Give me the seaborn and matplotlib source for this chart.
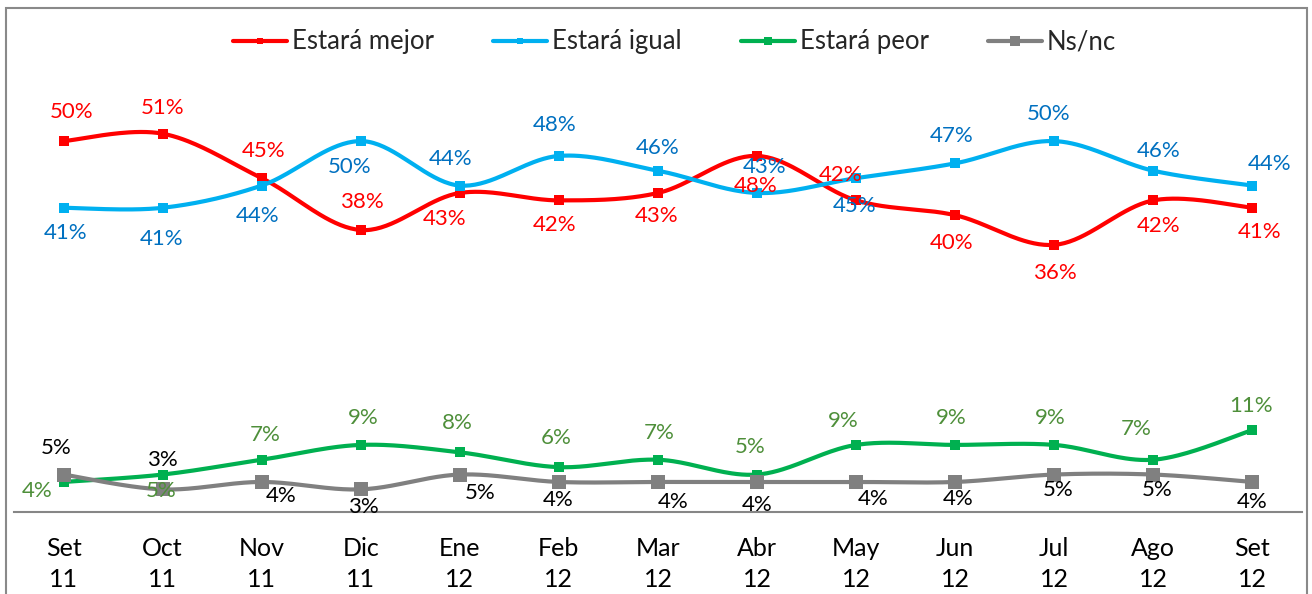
import numpy as np
import pandas as pd
import matplotlib
matplotlib.use("Agg")
import matplotlib.pyplot as plt
import seaborn as sns
from matplotlib.lines import Line2D
from matplotlib.patches import Rectangle

# ---- data ----
months = ["Set", "Oct", "Nov", "Dic", "Ene", "Feb", "Mar", "Abr", "May", "Jun", "Jul", "Ago", "Set"]
years = ["11", "11", "11", "11", "12", "12", "12", "12", "12", "12", "12", "12", "12"]
series_names = ["Estará mejor", "Estará igual", "Estará peor", "Ns/nc"]
mejor = [50, 51, 45, 38, 43, 42, 43, 48, 42, 40, 36, 42, 41]
igual = [41, 41, 44, 50, 44, 48, 46, 43, 45, 47, 50, 46, 44]
peor = [4, 5, 7, 9, 8, 6, 7, 5, 9, 9, 9, 7, 11]
nsnc = [5, 3, 4, 3, 5, 4, 4, 4, 4, 4, 5, 5, 4]

# ---- label placement (pixel offsets: right, down) ----
off_mejor = [(8, -29), (0, -26), (2, -27), (1, -28), (-15, 26), (-4, 25), (-1, 23),
             (-1, 30), (-16, -25), (-4, 28), (1, 28), (5, 26), (7, 24)]
off_igual = [(2, 25), (-1, 31), (-4, 30), (-11, 26), (-9, -27), (-4, -31), (0, -23),
             (8, -26), (-2, 28), (-4, -27), (-6, -27), (5, -20), (17, -22)]
off_peor = [(-26, 9), (-1, 16), (3, -25), (2, -27), (-3, -29), (-3, -29), (1, -27),
            (-7, -28), (-13, -24), (-4, -27), (-4, -27), (-17, -31), (-1, -24)]
off_nsnc = [(-7, -27), (0, -29), (19, 14), (3, 18), (20, 18), (-1, 18), (15, 20),
            (0, 23), (17, 17), (3, 17), (4, 15), (4, 15), (0, 20)]

# ---- styling ----
line_colors = ["#FF0000", "#00B0F0", "#00B050", "#808080"]
label_colors = ["#FF0000", "#0070C0", "#4E8F3A", "#000000"]
marker_sizes = [42, 42, 62, 100]          # scatter sizes (pt^2)
legend_marker_sizes = [4.5, 4.0, 5.5, 7.5]


def smooth_curve(xs, ys, n=40):
    """Cubic Bezier smoothing through every point (Catmull-Rom style)."""
    pts = np.column_stack([xs, ys]).astype(float)
    P = np.vstack([pts[0], pts, pts[-1]])
    t = np.linspace(0, 1, n)[:, None]
    out = []
    for i in range(1, len(P) - 2):
        p0, p1, p2, p3 = P[i - 1], P[i], P[i + 1], P[i + 2]
        c1 = p1 + (p2 - p0) / 6.0
        c2 = p2 - (p3 - p1) / 6.0
        seg = ((1 - t) ** 3) * p1 + 3 * ((1 - t) ** 2) * t * c1 + 3 * (1 - t) * t ** 2 * c2 + t ** 3 * p2
        out.append(seg if i == 1 else seg[1:])
    return np.vstack(out)


sns.set_style("white")
plt.rcParams["font.family"] = ["Lato", "DejaVu Sans"]

W, H = 1312, 594
fig = plt.figure(figsize=(W / 100, H / 100), dpi=100)
ax = fig.add_axes([14 / W, (H - 511.6) / H, 1288 / W, 444.6 / H])

xpos = np.arange(len(months))
all_values = [mejor, igual, peor, nsnc]
all_offsets = [off_mejor, off_igual, off_peor, off_nsnc]

for i, (name, vals) in enumerate(zip(series_names, all_values)):
    curve = smooth_curve(xpos, vals)
    cdf = pd.DataFrame({"x": curve[:, 0], "y": curve[:, 1]})
    sns.lineplot(data=cdf, x="x", y="y", sort=False, estimator=None, color=line_colors[i],
                 linewidth=3.0, ax=ax, zorder=2 + 2 * i)
    pdf = pd.DataFrame({"x": xpos, "y": vals})
    sns.scatterplot(data=pdf, x="x", y="y", marker="s", s=marker_sizes[i], color=line_colors[i],
                    edgecolor=line_colors[i], linewidth=0, ax=ax, zorder=3 + 2 * i)

for i, (vals, offs) in enumerate(zip(all_values, all_offsets)):
    for x, v, (dx, dy) in zip(xpos, vals, offs):
        ax.annotate(f"{v}%", xy=(x, v), xytext=(dx, -dy), textcoords="offset pixels",
                    ha="center", va="center", fontsize=16, color=label_colors[i], zorder=20)

ax.set_xlim(-0.5, len(months) - 0.5)
ax.set_ylim(0, 60)
ax.set_xlabel("")
ax.set_ylabel("")
ax.set_yticks([])
ax.set_xticks(xpos)
ax.set_xticklabels([f"{m}\n{y}" for m, y in zip(months, years)], fontsize=18,
                   linespacing=1.45, color="#000000")
ax.set_xticks(np.arange(-0.5, len(months)), minor=True)
ax.tick_params(axis="x", which="major", length=0, pad=18)
ax.tick_params(axis="x", which="minor", length=6, width=1.5, color="#868686", direction="out")
for side in ["top", "right", "left"]:
    ax.spines[side].set_visible(False)
ax.spines["bottom"].set_color("#868686")
ax.spines["bottom"].set_linewidth(1.5)
ax.patch.set_alpha(0)

handles = [Line2D([0], [0], color=line_colors[i], linewidth=3.0, marker="s",
                  markersize=legend_marker_sizes[i], markerfacecolor=line_colors[i],
                  markeredgewidth=0) for i in range(4)]
fig.legend(handles, series_names, loc="center", bbox_to_anchor=(674.5 / W, 1 - 42 / H),
           ncol=4, frameon=False, fontsize=18.5, handlelength=2.1, handletextpad=0.2,
           columnspacing=2.3, borderaxespad=0, borderpad=0)

# chart border
fig.patches.append(Rectangle((6 / W, -0.05), (1307 - 6) / W, 1.05 - 8 / H,
                             transform=fig.transFigure, fill=False,
                             edgecolor="#898989", linewidth=1.5, zorder=0))

fig.savefig("out.png", dpi=100)
